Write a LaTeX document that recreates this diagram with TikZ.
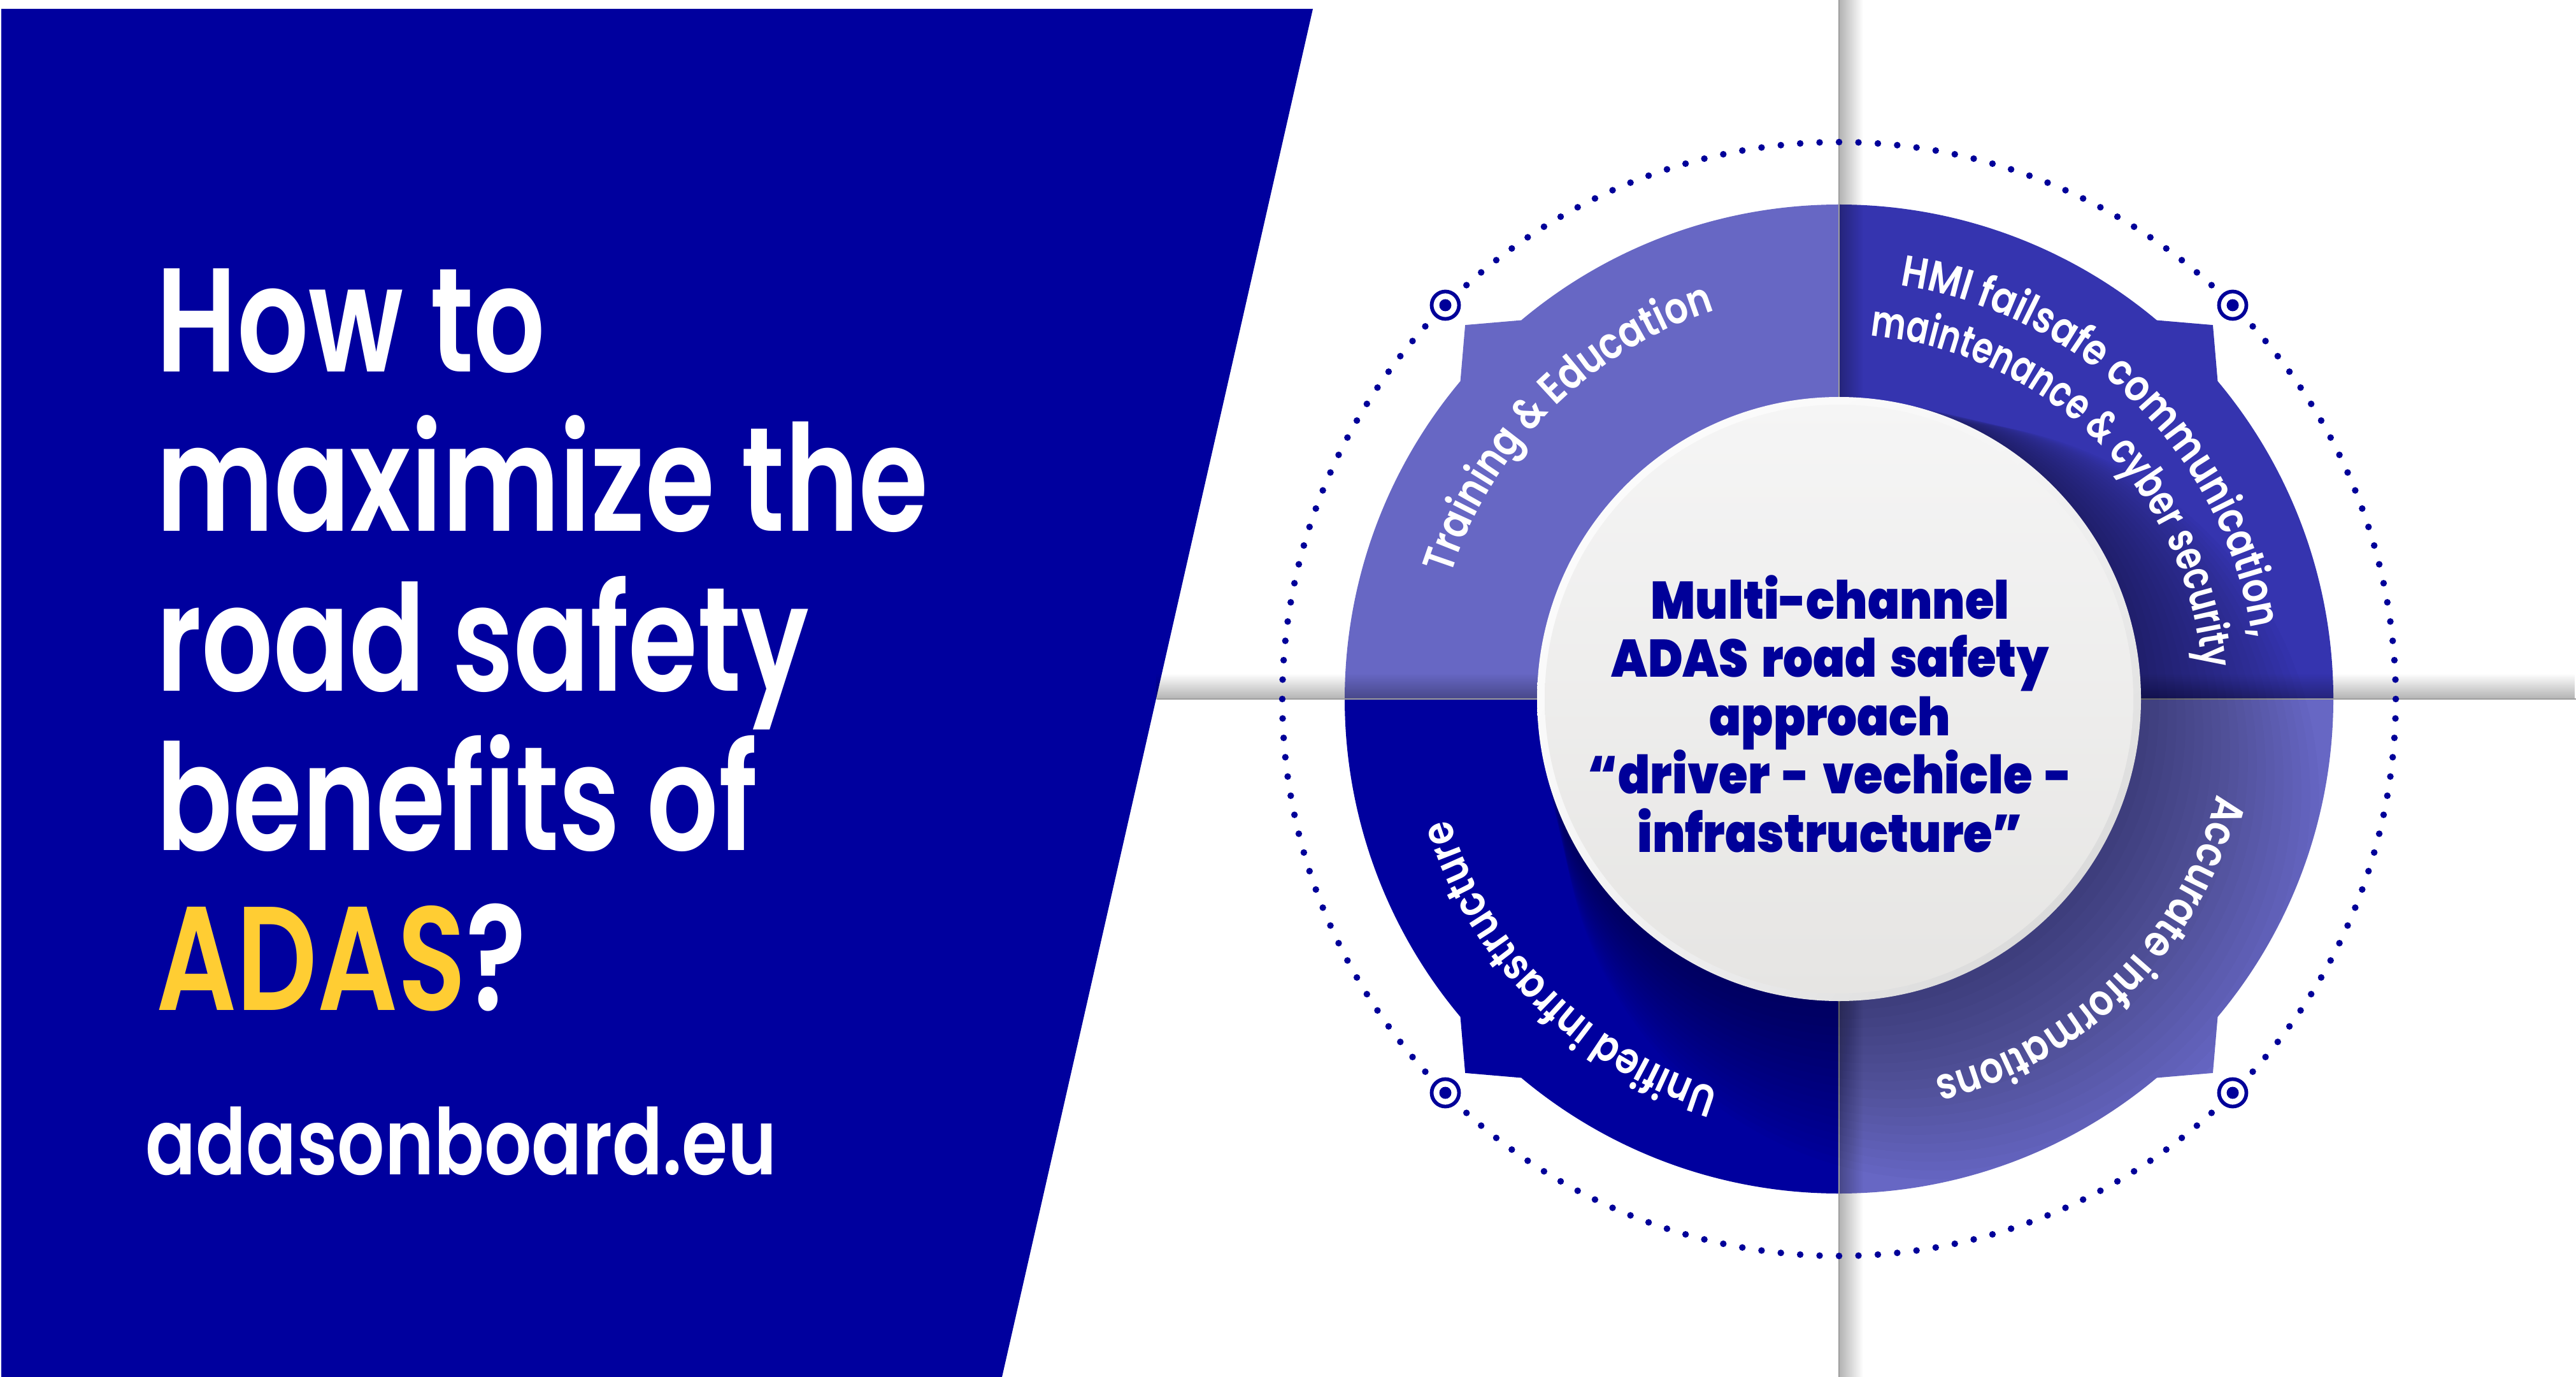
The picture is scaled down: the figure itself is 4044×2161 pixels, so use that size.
\documentclass[tikz,border=0pt]{standalone}
\usepackage{fontspec}
\usetikzlibrary{decorations.text,fadings,shadings}
\newfontfamily\titlefont{Poppins SemiBold}[FakeStretch=0.76]
\newfontfamily\urlfont{Poppins SemiBold}[FakeStretch=0.81]
\newfontfamily\centerfont{Poppins Black}[FakeStretch=0.89, WordSpace=1.6]
\newfontfamily\ringfont{Poppins SemiBold}[FakeStretch=0.84]
\newfontfamily\ringfontn{Poppins SemiBold}[FakeStretch=0.76]
\definecolor{dkblue}{RGB}{0,0,158}
\definecolor{txtblue}{RGB}{0,0,153}
\definecolor{ltpurple}{RGB}{103,103,196}
\definecolor{mdpurple}{RGB}{53,52,175}
\definecolor{ylw}{RGB}{255,205,51}
\definecolor{facetop}{RGB}{245,245,245}
\definecolor{facebot}{RGB}{230,229,227}
\tikzfading[name=fadeR, left color=transparent!0, right color=transparent!100]
\tikzfading[name=fadeU, bottom color=transparent!0, top color=transparent!100]
\newcommand{\discoutline}{(0:776) arc[start angle=0,end angle=40,radius=776] -- (45:830) -- (50:776) arc[start angle=50,end angle=130,radius=776] -- (135:830) -- (140:776) arc[start angle=140,end angle=220,radius=776] -- (225:830) -- (230:776) arc[start angle=230,end angle=310,radius=776] -- (315:830) -- (320:776) arc[start angle=320,end angle=360,radius=776] -- cycle}
\newcommand{\mkquad}[2]{\fill[#2] (0,0) -- (#1:776) arc[start angle=#1,end angle=#1+40,radius=776] -- (#1+45:830) -- (#1+50:776) arc[start angle=#1+50,end angle=#1+90,radius=776] -- cycle;}
\begin{document}
\begin{tikzpicture}[x=0.1mm,y=0.1mm,
  title/.style={text=white, font=\titlefont\fontsize{66pt}{72pt}\selectfont, inner sep=0pt, anchor=base west, text height=0.75em, text depth=0.18em},
  ctext/.style={text=txtblue, font=\centerfont\fontsize{23.6pt}{26pt}\selectfont, inner sep=0pt, anchor=base, text height=0.72em, text depth=0.18em},
  ringtext/.style={decorate, decoration={text along path, text align=center, text={|\color{white}\ringfont\fontsize{19.5pt}{20pt}\selectfont|#1}}},
  ringtextn/.style={decorate, decoration={text along path, text align=center, text={|\color{white}\ringfontn\fontsize{19.5pt}{20pt}\selectfont|#1}}},
  dotc/.style={fill=txtblue},
  marker/.style={draw=txtblue, line width=0.58mm},
]
\useasboundingbox (0,0) rectangle (4044,-2161);
\fill[white] (0,0) rectangle (4044,-2161);
% blue panel
\fill[dkblue] (2,-14) -- (2061,-14) -- (1573,-2161) -- (2,-2161) -- cycle;

\begin{scope}[shift={(2887,-1097)}]
  % quadrants
  \mkquad{0}{mdpurple}
  \mkquad{90}{ltpurple}
  \mkquad{180}{dkblue}
  \mkquad{270}{ltpurple}
\end{scope}

% paper folds
\fill[black, opacity=0.30, path fading=fadeR] (2887,0) rectangle (2925,-2161);
\draw[black!38, line width=0.15mm] (2887,0) -- (2887,-2161);
\fill[black, opacity=0.30, path fading=fadeU] (1816,-1097) rectangle (4044,-1057);
\draw[black!38, line width=0.15mm] (1816,-1097) -- (4044,-1097);

\begin{scope}[shift={(2887,-1097)}]
  % shadow of the centre disc
  \begin{scope}
    \clip \discoutline;
    \foreach \k in {1,...,20}{\fill[black, opacity=0.02] (8*\k,-8*\k) circle[radius=474+6*\k];}
  \end{scope}
  % centre disc
  \shade[upper left=white, upper right=white!96!black, lower left=white!96!black, lower right=white!82!black] (0,0) circle[radius=474];
  \shade[top color=facetop, bottom color=facebot] (0,0) circle[radius=462];
  % dotted ring
  \foreach \m in {0,1,2,3}{\foreach \j in {0,...,42}{\fill[dotc] (45+\m*90+3+2*\j:874) circle[radius=5.2];}}
  % target markers
  \foreach \a in {45,135,225,315}{
    \draw[marker] (\a:874) circle[radius=21.5];
    \fill[dotc] (\a:874) circle[radius=9.5];
  }
  % ring labels
  \path[ringtext={Training {\&} Education}] (185:640) arc[start angle=185,end angle=85,radius=640];
  \path[ringtext={HMI failsafe communication,}] (110:656) arc[start angle=110,end angle=-20,radius=656];
  \path[ringtextn={maintenance {\&} cyber security}] (115:572) arc[start angle=115,end angle=-25,radius=572];
  \path[ringtext={Accurate informations}] (5:612) arc[start angle=5,end angle=-95,radius=612];
  \path[ringtext={Unified infrastructure}] (-85:640) arc[start angle=-85,end angle=-185,radius=640];
\end{scope}

% centre text
\node[ctext] (c1) at (2873,-971) {Multi-channel};
\node[ctext] (c2) at (2873,-1062) {ADAS road safety};
\node[ctext] (c3) at (2873,-1154) {approach};
\node[ctext] (c4) at (2873,-1245) {“driver - vechicle -};
\node[ctext] (c5) at (2873,-1337) {infrastructure”};

% title
\node[title] (t1) at (245,-584) {How to};
\node[title] (t2) at (245,-833) {maximize the};
\node[title] (t3) at (245,-1084) {road safety};
\node[title] (t4) at (245,-1334) {benefits of};
\node[title] (t5) at (245,-1585) {\textcolor{ylw}{ADAS}?};
\node[text=white, font=\urlfont\fontsize{41pt}{46pt}\selectfont, inner sep=0pt, anchor=base west, text height=0.75em, text depth=0.05em] (url) at (228,-1843) {adasonboard.eu};
\end{tikzpicture}
\end{document}
